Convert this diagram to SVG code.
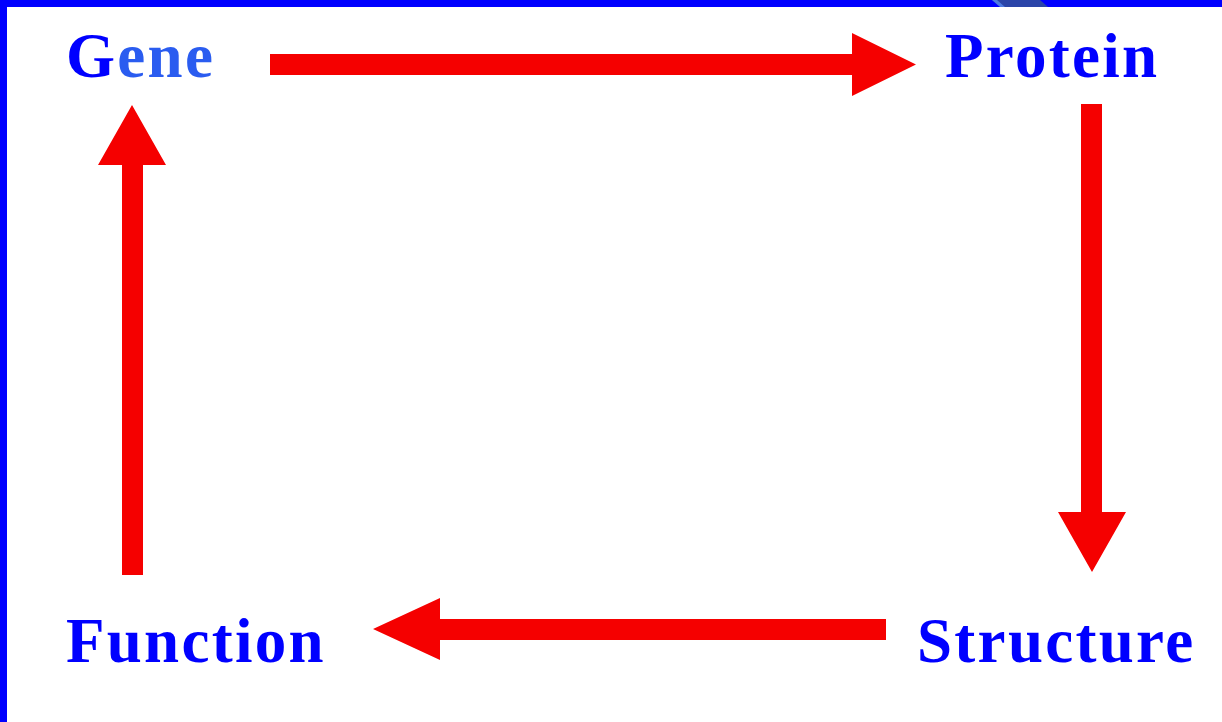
<svg xmlns="http://www.w3.org/2000/svg" width="1222" height="722" viewBox="0 0 1222 722">
  <style>
    .label { font-family: "Liberation Serif", "Times New Roman", serif; font-weight: bold; font-size: 63px; fill: #0000ff; letter-spacing: 2.3px; }
    .arrow { fill: #f50000; }
  </style>
  <!-- page background and frame -->
  <rect x="0" y="0" width="1222" height="722" fill="#ffffff"/>
  <rect x="0" y="0" width="1222" height="7" fill="#0000ff"/>
  <rect x="0" y="0" width="7" height="722" fill="#0000ff"/>
  <polygon points="992,0 1040,0 1048,7 1001,7" fill="#2a44a8"/>
  <polygon points="992,0 997,0 1005,7 1000,7" fill="#4d7ae0"/>

  <!-- connectors -->
  <g id="connectors">
    <!-- Gene to Protein -->
    <polygon class="arrow" points="270,54 852,54 852,33 916,64.5 852,96 852,75 270,75"/>
    <!-- Protein to Structure -->
    <polygon class="arrow" points="1081,104 1102,104 1102,512 1126,512 1092,572 1058,512 1081,512"/>
    <!-- Structure to Function -->
    <polygon class="arrow" points="886,619 440,619 440,598 373,629 440,660 440,640 886,640"/>
    <!-- Function to Gene -->
    <polygon class="arrow" points="122,575 143,575 143,165 166,165 132,105 98,165 122,165"/>
  </g>

  <!-- nodes -->
  <g id="gene">
    <text class="label" x="66" y="77">G<tspan fill="#2a5cf0">ene</tspan></text>
  </g>
  <g id="protein">
    <text class="label" x="945" y="77">Protein</text>
  </g>
  <g id="structure">
    <text class="label" x="917" y="662">Structure</text>
  </g>
  <g id="function">
    <text class="label" x="66" y="662">Function</text>
  </g>
</svg>
